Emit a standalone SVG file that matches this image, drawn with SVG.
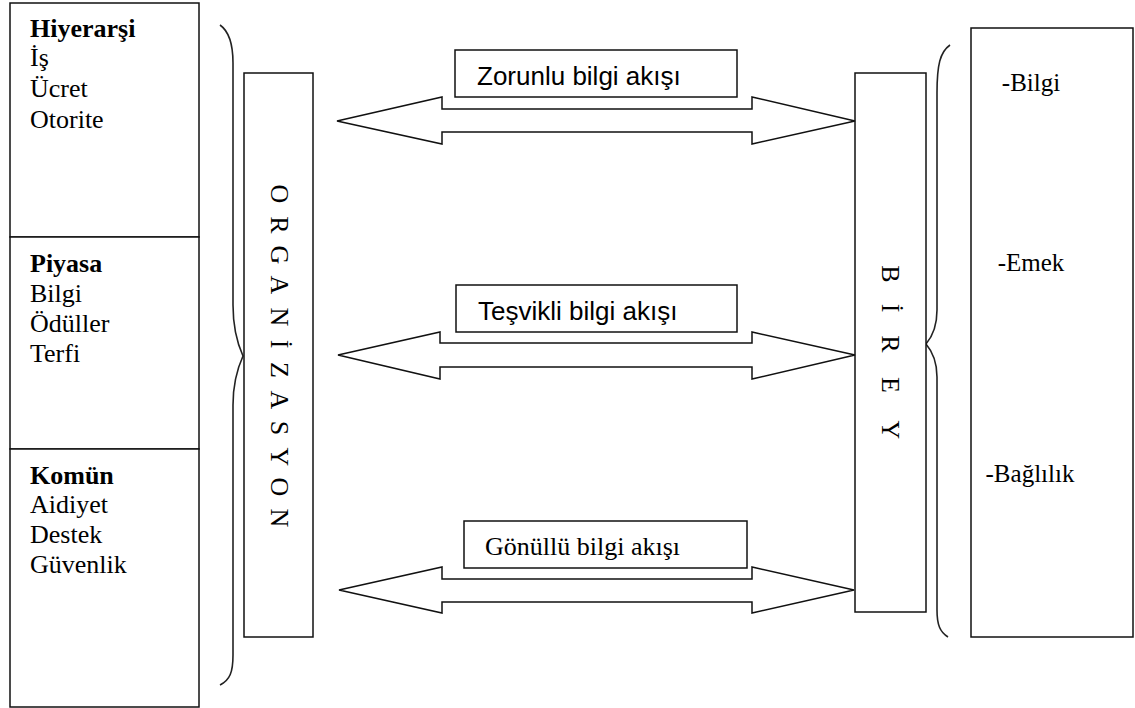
<svg xmlns="http://www.w3.org/2000/svg" width="1135" height="708" viewBox="0 0 1135 708">
  <style>
    .box { fill: #fff; stroke: #111; stroke-width: 1.5; }
    .brace { fill: none; stroke: #222; stroke-width: 1.6; }
    .arrow { fill: #fff; stroke: #111; stroke-width: 1.5; stroke-linejoin: miter; }
    .serif { font-family: "Liberation Serif", "Times New Roman", serif; font-size: 26px; fill: #000; }
    .small { font-size: 25px; }
    .bold { font-weight: bold; }
    .sans { font-family: "Liberation Sans", Arial, sans-serif; font-size: 26px; fill: #000; }
    .vert { font-family: "Liberation Serif", "Times New Roman", serif; font-size: 26px; fill: #000; text-anchor: middle; dominant-baseline: central; }
    .mid { text-anchor: middle; }
  </style>

  <!-- left column: three stacked panels -->
  <g id="hiyerarsi">
    <rect class="box" x="10" y="3" width="189" height="234"/>
    <text class="serif bold" x="30" y="37">Hiyerarşi</text>
    <text class="serif" x="30" y="66">İş</text>
    <text class="serif" x="30" y="97">Ücret</text>
    <text class="serif" x="30" y="128">Otorite</text>
  </g>
  <g id="piyasa">
    <rect class="box" x="10" y="237" width="189" height="212"/>
    <text class="serif bold" x="30" y="272">Piyasa</text>
    <text class="serif" x="30" y="302">Bilgi</text>
    <text class="serif" x="30" y="332">Ödüller</text>
    <text class="serif" x="30" y="362">Terfi</text>
  </g>
  <g id="komun">
    <rect class="box" x="10" y="449" width="189" height="258"/>
    <text class="serif bold" x="30" y="484">Komün</text>
    <text class="serif" x="30" y="513">Aidiyet</text>
    <text class="serif" x="30" y="543">Destek</text>
    <text class="serif" x="30" y="573">Güvenlik</text>
  </g>

  <!-- braces -->
  <g id="braces">
    <path class="brace" d="M220,25 C230,32 233,45 233,63 L233,305 C233,330 238,345 243,356 C238,367 233,382 233,405 L233,655 C233,672 230,680 220,685"/>
    <path class="brace" d="M950,45 C940,52 937,65 937,93 L937,310 C937,328 932,337 926,344 C932,351 937,360 937,377 L937,610 C937,625 940,632 948,637"/>
  </g>

  <!-- vertical bars -->
  <g id="organizasyon">
    <rect class="box" x="244" y="73" width="69" height="564"/>
    <text class="vert" transform="translate(279,194) rotate(90)">O</text>
    <text class="vert" transform="translate(279,225) rotate(90)">R</text>
    <text class="vert" transform="translate(279,255) rotate(90)">G</text>
    <text class="vert" transform="translate(279,285) rotate(90)">A</text>
    <text class="vert" transform="translate(279,317) rotate(90)">N</text>
    <text class="vert" transform="translate(279,344) rotate(90)">İ</text>
    <text class="vert" transform="translate(279,370) rotate(90)">Z</text>
    <text class="vert" transform="translate(279,400) rotate(90)">A</text>
    <text class="vert" transform="translate(279,428) rotate(90)">S</text>
    <text class="vert" transform="translate(279,457) rotate(90)">Y</text>
    <text class="vert" transform="translate(279,487) rotate(90)">O</text>
    <text class="vert" transform="translate(279,518) rotate(90)">N</text>
  </g>
  <g id="birey">
    <rect class="box" x="855" y="73" width="71" height="539"/>
    <text class="vert" transform="translate(890,274) rotate(90)">B</text>
    <text class="vert" transform="translate(890,308) rotate(90)">İ</text>
    <text class="vert" transform="translate(890,344) rotate(90)">R</text>
    <text class="vert" transform="translate(890,385) rotate(90)">E</text>
    <text class="vert" transform="translate(890,430) rotate(90)">Y</text>
  </g>

  <!-- right column -->
  <g id="katki">
    <rect class="box" x="971" y="28" width="162" height="609"/>
    <text class="serif small mid" x="1031" y="91">-Bilgi</text>
    <text class="serif small mid" x="1031" y="271">-Emek</text>
    <text class="serif small mid" x="1030" y="482">-Bağlılık</text>
  </g>

  <!-- flow labels -->
  <g id="zorunlu">
    <rect class="box" x="455" y="50" width="282" height="47"/>
    <text class="sans" x="477" y="85">Zorunlu bilgi akışı</text>
  </g>
  <g id="tesvikli">
    <rect class="box" x="456" y="285" width="281" height="47"/>
    <text class="sans" x="478" y="320">Teşvikli bilgi akışı</text>
  </g>
  <g id="gonullu">
    <rect class="box" x="464" y="521" width="283" height="47"/>
    <text class="serif" x="485" y="555">Gönüllü bilgi akışı</text>
  </g>

  <!-- double-headed flow arrows -->
  <g id="connectors">
    <polygon class="arrow" points="337,121 442,97 442,109 752,109 752,97 855,121 752,144 752,132 442,132 442,144"/>
    <polygon class="arrow" points="338,355 440,332 440,343 752,343 752,332 855,355 752,379 752,367 440,367 440,379"/>
    <polygon class="arrow" points="339,590 442,567 442,579 752,579 752,567 854,590 752,613 752,602 442,602 442,613"/>
  </g>
</svg>
